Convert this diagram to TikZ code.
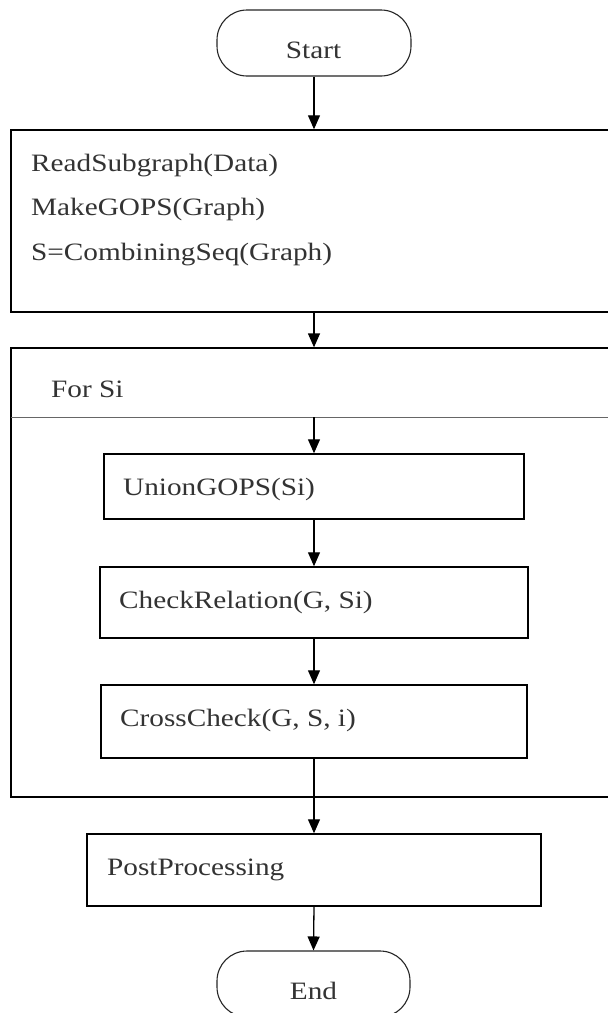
\documentclass[tikz,border=0pt]{standalone}
\usepackage{fontspec}
\setmainfont[FakeStretch=1.17]{Liberation Serif}
\usetikzlibrary{arrows.meta}

\tikzset{
  terminal/.style={draw=black!85, line width=1.1pt, rounded corners=30pt, inner sep=0pt},
  procbox/.style={draw=black, line width=1.5pt, inner sep=0pt},
  looptitle/.style={draw=black!60, line width=1pt},
  label/.style={anchor=base west, inner sep=0pt, text=black!80,
                font=\fontsize{25}{30}\selectfont},
  clabel/.style={anchor=base, inner sep=0pt, text=black!80,
                 font=\fontsize{25}{30}\selectfont},
  flow/.style={draw=black, line width=1.3pt,
               -{Triangle[width=12pt,length=14pt]}},
  plain/.style={draw=black, line width=1.3pt}
}

\begin{document}
\begin{tikzpicture}[x=1pt, y=-1pt]
  \clip (0,0) rectangle (608,1013);
  \fill[white] (0,0) rectangle (608,1013);

  % terminals
  \node[terminal, minimum width=194pt, minimum height=66pt] (start) at (314,43) {};
  \node[clabel] (starttxt) at (313.5,58) {Start};

  % initialisation block
  \node[procbox, minimum width=599pt, minimum height=182pt] (init) at (310.5,221) {};
  \node[label] (l1) at (31,171) {ReadSubgraph(Data)};
  \node[label] (l2) at (31,215) {MakeGOPS(Graph)};
  \node[label] (l3) at (31,260) {S=CombiningSeq(Graph)};

  % loop block
  \node[procbox, line width=1.3pt, minimum width=599pt, minimum height=449pt] (loop) at (310.5,572.5) {};
  \coordinate (divL) at (11,417);
  \coordinate (divR) at (610,417);
  \coordinate (divC) at (314,417);
  \draw[looptitle] (divL) -- (divR);
  \node[label] (fortxt) at (51,397) {For Si};

  % loop body
  \node[procbox, minimum width=420pt, minimum height=65pt] (union) at (314,486.5) {};
  \node[label] (uniontxt) at (123,495) {UnionGOPS(Si)};

  \node[procbox, minimum width=428pt, minimum height=71pt] (check) at (314,602.5) {};
  \node[label] (checktxt) at (119,608) {CheckRelation(G, Si)};

  \node[procbox, minimum width=426pt, minimum height=73pt] (cross) at (314,721.5) {};
  \node[label] (crosstxt) at (120,726) {CrossCheck(G, S, i)};

  % post processing
  \node[procbox, minimum width=454pt, minimum height=72pt] (post) at (314,870) {};
  \node[label] (posttxt) at (107,875) {PostProcessing};

  \node[terminal, minimum width=193pt, minimum height=66pt] (end) at (313.5,984) {};
  \node[clabel] (endtxt) at (313.5,999) {End};

  % connectors
  \draw[flow] (start.south) -- (start.south |- init.north);
  \draw[flow] (init.south -| start.south) -- (start.south |- loop.north);
  \draw[flow] (divC) -- (union.north);
  \draw[flow] (union.south) -- (check.north);
  \draw[flow] (check.south) -- (cross.north);
  \draw[flow] (cross.south) -- (post.north);
  \draw[flow] (post.south) -- (end.north);
\end{tikzpicture}
\end{document}
